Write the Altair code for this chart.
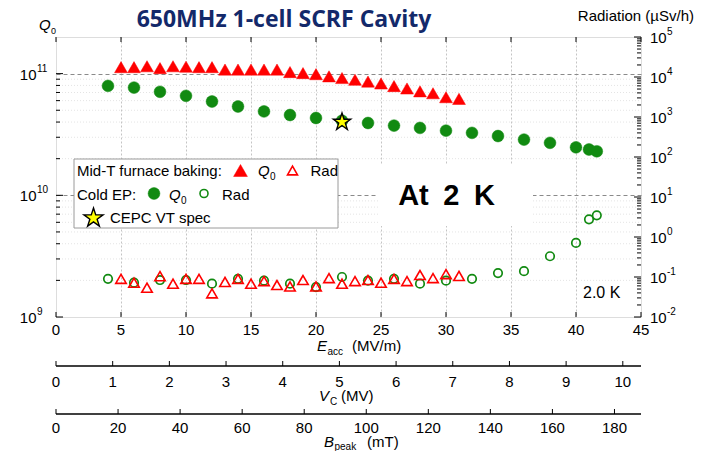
import altair as alt
import pandas as pd

# ---------------- data ----------------
midT_eacc = list(range(5, 32))
midT_q0 = [1.13e11, 1.13e11, 1.15e11, 1.11e11, 1.15e11, 1.14e11, 1.13e11, 1.13e11, 1.08e11, 1.08e11,
           1.08e11, 1.08e11, 1.08e11, 1.03e11, 1.01e11, 9.9e10, 9.5e10, 9.2e10, 8.9e10, 8.6e10,
           8.3e10, 7.9e10, 7.55e10, 7.15e10, 6.9e10, 6.4e10, 6.2e10]
midT_rad = [0.090, 0.072, 0.054, 0.105, 0.068, 0.090, 0.090, 0.039, 0.075, 0.090,
            0.068, 0.079, 0.063, 0.058, 0.084, 0.058, 0.094, 0.068, 0.079, 0.084,
            0.072, 0.090, 0.079, 0.112, 0.094, 0.118, 0.106]

cep_eacc = [4, 6, 8, 10, 12, 14, 16, 18, 20, 22, 24, 26, 28, 30, 32, 34, 36, 38, 40, 41, 41.6]
cep_q0 = [7.93e10, 7.68e10, 7.09e10, 6.57e10, 5.90e10, 5.37e10, 4.89e10, 4.57e10, 4.32e10, 4.1e10,
          3.93e10, 3.74e10, 3.58e10, 3.40e10, 3.26e10, 3.07e10, 2.87e10, 2.70e10, 2.48e10, 2.38e10, 2.30e10]
cep_rad = [0.090, 0.072, 0.084, 0.084, 0.068, 0.090, 0.081, 0.068, 0.056, 0.10,
           0.081, 0.090, 0.068, 0.081, 0.090, 0.125, 0.14, 0.33, 0.71, 2.77, 3.49]

spec_eacc = [22]
spec_q0 = [4.0e10]

# axis ticks / labels
x_ticks = [0, 5, 10, 15, 20, 25, 30, 35, 40, 45]
x_tick_labels = [str(v) for v in x_ticks]
vc_ticks = [0, 1, 2, 3, 4, 5, 6, 7, 8, 9, 10]
vc_tick_labels = [str(v) for v in vc_ticks]
bp_ticks = [0, 20, 40, 60, 80, 100, 120, 140, 160, 180]
bp_tick_labels = [str(v) for v in bp_ticks]
q_major = [1e9, 1e10, 1e11]
q_major_exp = ["9", "10", "11"]
r_major = [1e-2, 1e-1, 1e0, 1e1, 1e2, 1e3, 1e4, 1e5]
r_major_exp = ["-2", "-1", "0", "1", "2", "3", "4", "5"]
q_minor = [m * 10.0 ** e for e in (9, 10) for m in range(2, 10)]
r_minor = [m * 10.0 ** e for e in range(-2, 5) for m in range(2, 10)]

E_PER_VC = 4.36      # MV/m per MV
BP_PER_E = 4.19      # mT per MV/m

# ---------------- layout constants ----------------
W, H = 585, 280
FONT = "Liberation Sans"
RED = "#FF0000"
GREEN = "#118A11"
NAVY = "#13296A"
VC_Y = 329
BP_Y = 377
STAR = ("M0,-1L0.2245,-0.309L0.951,-0.309L0.363,0.118L0.588,0.809L0,0.382"
        "L-0.588,0.809L-0.363,0.118L-0.951,-0.309L-0.2245,-0.309Z")

xs = alt.Scale(domain=[0, 45], nice=False, zero=False)
qs = alt.Scale(type="log", domain=[1e9, 2e11], nice=False)
rs = alt.Scale(type="log", domain=[1e-2, 1e5], nice=False)

xaxis = alt.Axis(title=None, labels=False, ticks=False, domain=False, grid=True,
                 values=[5, 10, 15, 20, 25, 30, 35, 40], gridDash=[2, 2],
                 gridColor="#c4c4c4", gridWidth=1)
yaxis_left = alt.Axis(title=None, labels=False, ticks=False, domain=False, grid=True,
                      values=[1e10, 1e11], gridDash=[4, 3], gridColor="#8a8a8a", gridWidth=1)


def X(f):
    return alt.X(f, type="quantitative", scale=xs, axis=xaxis)


def YL(f):
    return alt.Y(f, type="quantitative", scale=qs, axis=yaxis_left)


def YR(f):
    return alt.Y(f, type="quantitative", scale=rs, axis=None)


blank = pd.DataFrame({"k": [0]})


def text(s, x, y, size=15, align="left", style="normal", weight="normal",
         color="black", font=FONT, baseline="alphabetic"):
    return alt.Chart(blank).mark_text(
        text=s, align=align, baseline=baseline, fontSize=size, fontStyle=style,
        fontWeight=weight, color=color, font=font
    ).encode(x=alt.value(x), y=alt.value(y))


def hline(x1, x2, y, color="black", width=1.0):
    return alt.Chart(blank).mark_rule(color=color, strokeWidth=width).encode(
        x=alt.value(x1), x2=alt.value(x2), y=alt.value(y))


def sym(shape, x, y, size, color, filled, sw=1.6):
    if filled:
        m = alt.Chart(blank).mark_point(shape=shape, size=size, filled=True, fill=color,
                                        stroke=color, strokeWidth=0.5, opacity=1)
    else:
        m = alt.Chart(blank).mark_point(shape=shape, size=size, filled=False, stroke=color,
                                        strokeWidth=sw, opacity=1)
    return m.encode(x=alt.value(x), y=alt.value(y))


midT_df = pd.DataFrame({"eacc": midT_eacc, "q0": midT_q0, "rad": midT_rad})
cep_df = pd.DataFrame({"eacc": cep_eacc, "q0": cep_q0, "rad": cep_rad})
spec_df = pd.DataFrame({"eacc": spec_eacc, "q0": spec_q0})
qminor_df = pd.DataFrame({"v": q_minor})
qmajor_df = pd.DataFrame({"v": q_major, "exp": q_major_exp})
rminor_df = pd.DataFrame({"v": r_minor})
rmajor_df = pd.DataFrame({"v": r_major, "exp": r_major_exp})
xt_df = pd.DataFrame({"v": x_ticks, "lab": x_tick_labels})
vc_df = pd.DataFrame({"v": vc_ticks, "lab": vc_tick_labels})
bp_df = pd.DataFrame({"v": bp_ticks, "lab": bp_tick_labels})

# ---------------- left (Q0) group ----------------
grid_minor = alt.Chart(qminor_df).mark_rule(color="#e4e4e4", strokeDash=[1, 2]).encode(
    y=YL("v"), x=alt.value(0), x2=alt.value(W))
tick_minor_L = alt.Chart(qminor_df).mark_rule(color="black").encode(
    y=YL("v"), x=alt.value(0), x2=alt.value(4))
tick_major_L = alt.Chart(qmajor_df).mark_rule(color="black").encode(
    y=YL("v"), x=alt.value(0), x2=alt.value(7))
labels_L10 = alt.Chart(qmajor_df).mark_text(
    text="10", align="right", baseline="middle", fontSize=15, font=FONT, dy=1).encode(
    y=YL("v"), x=alt.value(-19.5))
labels_Lexp = alt.Chart(qmajor_df).mark_text(
    align="left", baseline="middle", fontSize=10, font=FONT, dy=-5).encode(
    y=YL("v"), x=alt.value(-19), text="exp:N")

xt_top = alt.Chart(xt_df).mark_rule(color="black").encode(
    x=X("v"), y=alt.value(0), y2=alt.value(5))
xt_bot = alt.Chart(xt_df).mark_rule(color="black").encode(
    x=X("v"), y=alt.value(H), y2=alt.value(H - 5))
x_lab = alt.Chart(xt_df).mark_text(fontSize=15, font=FONT, baseline="alphabetic").encode(
    x=X("v"), y=alt.value(298), text="lab:N")

vc_ticks_m = alt.Chart(vc_df).transform_calculate(e=f"datum.v * {E_PER_VC}").mark_rule(
    color="black").encode(x=X("e"), y=alt.value(VC_Y), y2=alt.value(VC_Y - 5))
vc_lab = alt.Chart(vc_df).transform_calculate(e=f"datum.v * {E_PER_VC}").mark_text(
    fontSize=15, font=FONT, baseline="alphabetic").encode(
    x=X("e"), y=alt.value(VC_Y + 20.5), text="lab:N")
bp_ticks_m = alt.Chart(bp_df).transform_calculate(e=f"datum.v / {BP_PER_E}").mark_rule(
    color="black").encode(x=X("e"), y=alt.value(BP_Y), y2=alt.value(BP_Y - 5))
bp_lab = alt.Chart(bp_df).transform_calculate(e=f"datum.v / {BP_PER_E}").mark_text(
    fontSize=15, font=FONT, baseline="alphabetic").encode(
    x=X("e"), y=alt.value(BP_Y + 18.5), text="lab:N")

q_midT = alt.Chart(midT_df).mark_point(shape="triangle-up", filled=True, size=165,
                                       fill=RED, stroke=RED, strokeWidth=0.5, opacity=1).encode(
    x=X("eacc"), y=YL("q0"))
q_cep = alt.Chart(cep_df).mark_point(shape="circle", filled=True, size=140,
                                     fill=GREEN, stroke=GREEN, strokeWidth=0.5, opacity=1).encode(
    x=X("eacc"), y=YL("q0"))
q_spec = alt.Chart(spec_df).mark_point(shape=STAR, filled=True, size=330, fill="#FFFF00",
                                       stroke="black", strokeWidth=1.4, opacity=1).encode(
    x=X("eacc"), y=YL("q0"))

left = alt.layer(
    grid_minor, tick_minor_L, tick_major_L, labels_L10, labels_Lexp,
    xt_top, xt_bot, x_lab,
    hline(0, W, VC_Y, width=1.5), vc_ticks_m, vc_lab,
    hline(0, W, BP_Y, width=1.5), bp_ticks_m, bp_lab,
    text("E", 261, 314, style="italic"), text("acc", 271.5, 318, size=10),
    text("(MV/m)", 296, 314),
    text("V", 263, 364, style="italic"), text("C", 274, 368, size=10),
    text("(MV)", 285, 364),
    text("B", 268, 410, style="italic"), text("peak", 278.5, 412.5, size=10),
    text("(mT)", 311, 410),
    q_midT, q_cep, q_spec,
)

# ---------------- right (Radiation) group ----------------
tick_minor_R = alt.Chart(rminor_df).mark_rule(color="black").encode(
    y=YR("v"), x=alt.value(W), x2=alt.value(W - 4))
tick_major_R = alt.Chart(rmajor_df).mark_rule(color="black").encode(
    y=YR("v"), x=alt.value(W), x2=alt.value(W - 7))
labels_R10 = alt.Chart(rmajor_df).mark_text(
    text="10", align="left", baseline="middle", fontSize=15, font=FONT, dy=1).encode(
    y=YR("v"), x=alt.value(594))
labels_Rexp = alt.Chart(rmajor_df).mark_text(
    align="left", baseline="middle", fontSize=10, font=FONT, dy=-5).encode(
    y=YR("v"), x=alt.value(611), text="exp:N")

r_cep = alt.Chart(cep_df).mark_point(shape="circle", filled=False, size=72, stroke=GREEN,
                                     strokeWidth=1.7, opacity=1).encode(
    x=X("eacc"), y=YR("rad"))
r_midT = alt.Chart(midT_df).mark_point(shape="triangle-up", filled=False, size=110, stroke=RED,
                                       strokeWidth=1.6, opacity=1).encode(
    x=X("eacc"), y=YR("rad"))

white_box = alt.Chart(blank).mark_rect(fill="white").encode(
    x=alt.value(322), x2=alt.value(477), y=alt.value(128), y2=alt.value(189))
legend_box = alt.Chart(blank).mark_rect(fill="white", stroke="#9a9a9a", strokeWidth=1).encode(
    x=alt.value(18), x2=alt.value(282), y=alt.value(122), y2=alt.value(191))

right = alt.layer(
    tick_minor_R, tick_major_R, labels_R10, labels_Rexp,
    r_cep, r_midT,
    white_box,
    text("At\u20022\u2002K", 390.5, 168, size=29, align="center", weight="bold"),
    text("2.0 K", 527, 261, size=16),
    legend_box,
    text("Mid-T furnace baking:", 21, 139),
    sym("triangle-up", 184.5, 133.5, 190, RED, True),
    text("Q", 202, 139, style="italic"), text("0", 214, 143, size=10),
    sym("triangle-up", 236.5, 133.5, 100, RED, False),
    text("Rad", 254.5, 139),
    text("Cold EP:", 21, 162.5),
    sym("circle", 98, 156.5, 140, GREEN, True),
    text("Q", 113, 162.5, style="italic"), text("0", 125, 166.5, size=10),
    sym("circle", 148, 156.5, 64, GREEN, False),
    text("Rad", 166, 162.5),
    alt.Chart(blank).mark_point(shape=STAR, filled=True, size=400, fill="#FFFF00",
                                stroke="black", strokeWidth=1.4, opacity=1).encode(
        x=alt.value(37.5), y=alt.value(181)),
    text("CEPC VT spec", 54, 186),
    text("650MHz 1-cell SCRF Cavity", 228, -10.5, size=23, align="center", weight="bold",
         color=NAVY, font="Open Sans"),
    text("Radiation (\u00b5Sv/h)", 638, -16, align="right"),
    text("Q", -17, -7, size=15, style="italic"), text("0", -5, -3, size=9),
)

chart = alt.layer(left, right).resolve_scale(y="independent").properties(
    width=W, height=H,
    autosize=alt.AutoSizeParams(type="none"),
    padding={"left": 48, "top": 29, "right": 55, "bottom": 134},
).configure_view(stroke="black", strokeWidth=1.2).configure(background="white")

chart.save("out.html", embed_options={"renderer": "svg", "actions": False})
